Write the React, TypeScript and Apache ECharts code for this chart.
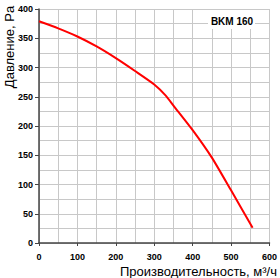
import React, { useEffect, useRef } from "react";
import * as echarts from "echarts";

const flowValues = [0, 50, 100, 150, 200, 250, 300, 330, 350, 400, 450, 500, 556];
const pressureValues = [379, 367, 353, 336, 316, 294, 271, 252, 235, 193, 146, 90, 26];
const chartTitle = "BKM 160";
const yAxisTitle = "Давление, Pa";
const xAxisTitle = "Производительность, м³/ч";

export default function App() {
  const ref = useRef<HTMLDivElement>(null);
  useEffect(() => {
    if (!ref.current) return;
    const chart = echarts.init(ref.current, null, { renderer: "svg" });
    const font = "'Liberation Sans', Arial, sans-serif";
    chart.setOption({
      animation: false,
      backgroundColor: "#ffffff",
      grid: { left: 39, right: 10, top: 9, bottom: 35, containLabel: false },
      xAxis: {
        type: "value",
        min: 0,
        max: 600,
        interval: 100,
        axisLine: { show: true, onZero: false, lineStyle: { color: "#444", width: 1.5 } },
        axisTick: { show: true, length: 3, lineStyle: { color: "#444" } },
        axisLabel: { color: "#000", fontSize: 9, fontWeight: "bold", fontFamily: font, margin: 9 },
        splitLine: { show: true, lineStyle: { color: "#c8c8c8", width: 1 } },
        minorTick: { show: false, splitNumber: 2 },
        minorSplitLine: { show: true, lineStyle: { color: "#c8c8c8", width: 1 } },
      },
      yAxis: {
        type: "value",
        min: 0,
        max: 400,
        interval: 50,
        axisLine: { show: true, onZero: false, lineStyle: { color: "#444", width: 1.5 } },
        axisTick: { show: true, length: 4, lineStyle: { color: "#444" } },
        axisLabel: { color: "#000", fontSize: 9, fontWeight: "bold", fontFamily: font, margin: 6 },
        splitLine: { show: true, lineStyle: { color: "#c8c8c8", width: 1 } },
        minorTick: { show: false, splitNumber: 2 },
        minorSplitLine: { show: true, lineStyle: { color: "#c8c8c8", width: 1 } },
      },
      graphic: [
        {
          type: "rect",
          shape: { x: 208, y: 10, width: 47, height: 19 },
          style: { fill: "#ffffff" },
          z: 10,
        },
        {
          type: "text",
          x: 232,
          y: 21,
          style: {
            text: chartTitle,
            fill: "#000",
            font: `bold 10px ${font}`,
            align: "center",
            verticalAlign: "middle",
          },
          z: 11,
        },
        {
          type: "text",
          x: 9,
          y: 47,
          rotation: Math.PI / 2,
          style: {
            text: yAxisTitle,
            fill: "#000",
            font: `13px ${font}`,
            align: "center",
            verticalAlign: "middle",
          },
        },
        {
          type: "text",
          x: 277,
          y: 271,
          style: {
            text: xAxisTitle,
            fill: "#000",
            font: `13px ${font}`,
            align: "right",
            verticalAlign: "middle",
          },
        },
      ],
      series: [
        {
          type: "line",
          data: flowValues.map((x, i) => [x, pressureValues[i]]),
          smooth: 0.2,
          showSymbol: false,
          lineStyle: { color: "#ff0000", width: 2 },
          z: 5,
        },
      ],
    });
    return () => chart.dispose();
  }, []);
  return <div ref={ref} style={{ width: 280, height: 278, position: "absolute", left: 0, top: 0 }} />;
}
